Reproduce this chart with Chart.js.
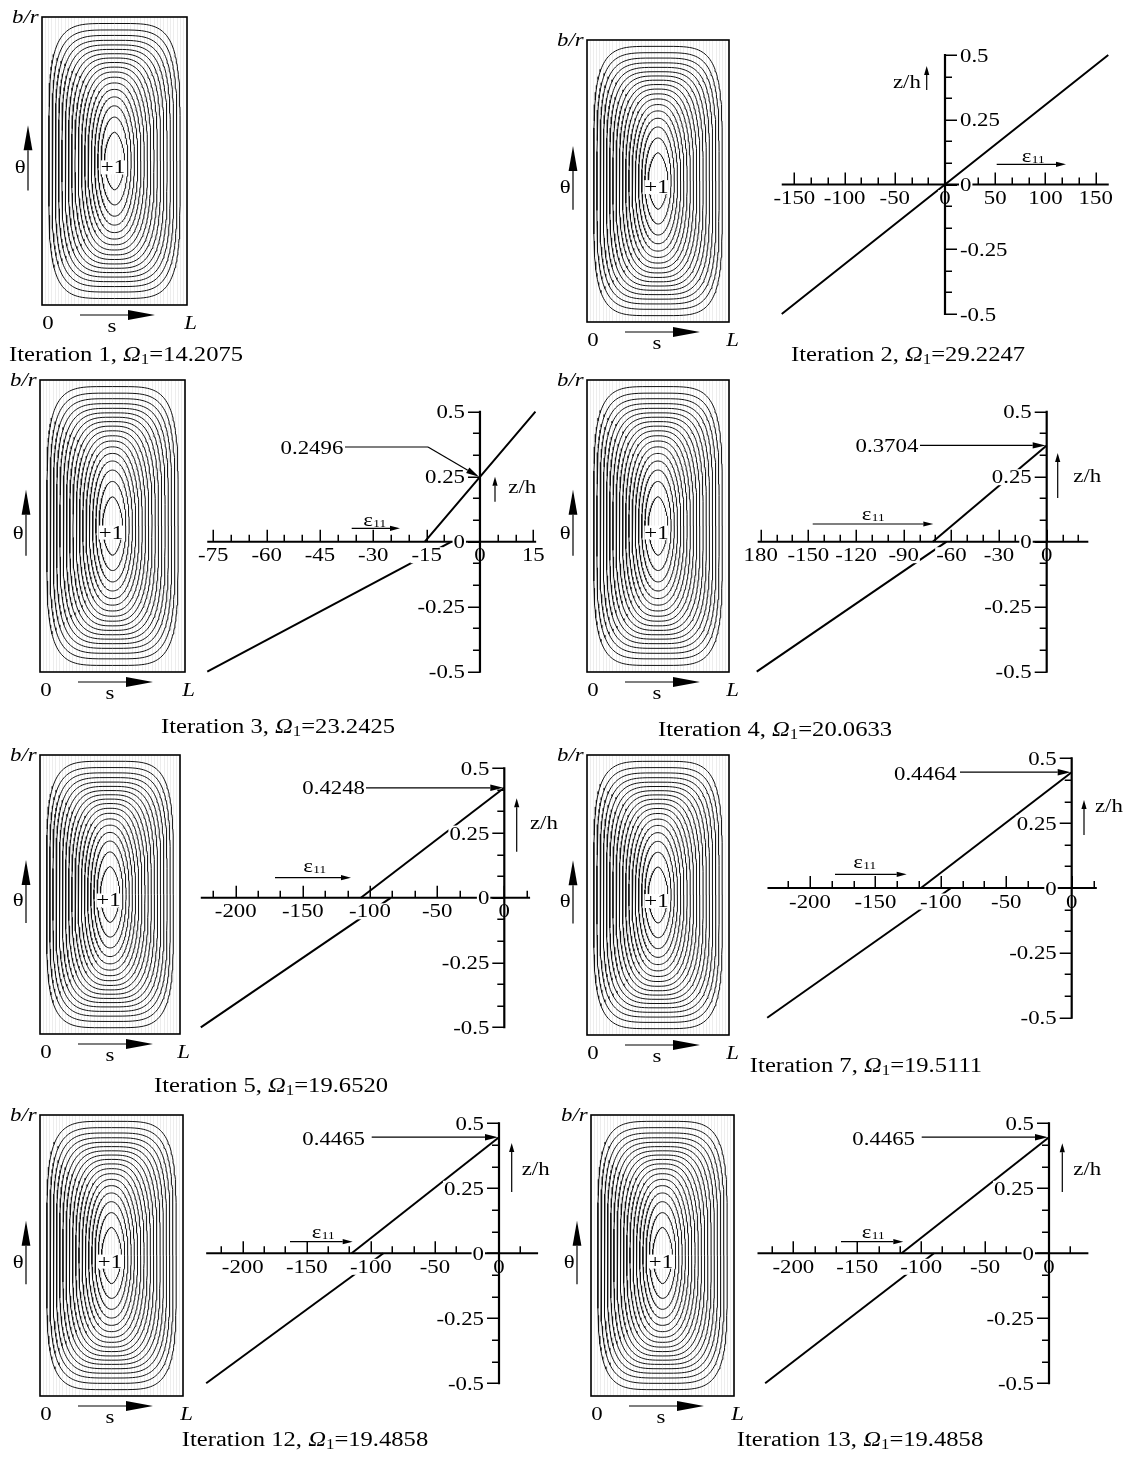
<!DOCTYPE html>
<html>
<head>
<meta charset="utf-8">
<script src="https://cdn.jsdelivr.net/npm/chart.js@4.4.1/dist/chart.umd.min.js"></script>
<style>
  body { margin: 0; background: #fff; width: 1132px; height: 1458px; position: relative; overflow: hidden; }
  canvas { position: absolute; }
  .cap { position: absolute; transform: translate(-50%, -50%) scaleX(1.2); font: 20.5px "Liberation Serif", "Times New Roman", serif; white-space: nowrap; color: #000; }
  .cap i { font-style: italic; }
  .cap sub { font-size: 14px; vertical-align: -3px; }
</style>
</head>
<body>
<script>
// ---- data ----
const iterations = ['1', '2', '3', '4', '5', '7', '12', '13'];
const omegaValues = ['14.2075', '29.2247', '23.2425', '20.0633', '19.6520', '19.5111', '19.4858', '19.4858'];

// mode shape contours, outer -> inner (fraction of half width / half height of the panel)
const ringHalfW = [0.905, 0.86, 0.815, 0.77, 0.725, 0.68, 0.635, 0.59, 0.545, 0.5, 0.455, 0.41, 0.365, 0.32, 0.275, 0.23, 0.185, 0.14];
const ringHalfH = [0.955, 0.91, 0.872, 0.838, 0.806, 0.775, 0.745, 0.715, 0.684, 0.652, 0.618, 0.582, 0.542, 0.497, 0.445, 0.383, 0.305, 0.2];
const ringPower = [4.6, 4.4, 4.2, 4.0, 3.8, 3.6, 3.4, 3.2, 3.0, 2.85, 2.7, 2.55, 2.4, 2.3, 2.2, 2.1, 2.0, 1.7];

// z/h axis
const zTicks = [-0.5, -0.25, 0, 0.25, 0.5];
const zTickLabels = ['-0.5', '-0.25', '0', '0.25', '0.5'];

// eps11 axes
const eps2Ticks = [-150, -100, -50, 0, 50, 100, 150];
const eps2Labels = ['-150', '-100', '-50', '0', '50', '100', '150'];
const eps3Ticks = [-75, -60, -45, -30, -15, 0, 15];
const eps3Labels = ['-75', '-60', '-45', '-30', '-15', '0', '15'];
const eps4Ticks = [-180, -150, -120, -90, -60, -30, 0];
const eps4Labels = ['180', '-150', '-120', '-90', '-60', '-30', '0'];
const eps5Ticks = [-200, -150, -100, -50, 0];
const eps5Labels = ['-200', '-150', '-100', '-50', '0'];

// strain distributions (eps11, z/h)
const it2Eps = [-162.5, 0, 162.5];
const it2Z = [-0.5, 0, 0.5];
const it3UpperEps = [-15.5, 0, 15.6];
const it3UpperZ = [0, 0.2496, 0.5];
const it3LowerEps = [-8, -76.7];
const it3LowerZ = [0, -0.5];
const it4UpperEps = [-71.7, 0, 25.5];
const it4UpperZ = [0, 0.3704, 0.5];
const it4LowerEps = [-63, -182.5];
const it4LowerZ = [0, -0.5];
const it5UpperEps = [-106.8, 0, 18.9];
const it5UpperZ = [0, 0.4248, 0.5];
const it5LowerEps = [-84.6, -226];
const it5LowerZ = [0, -0.5];
const it7UpperEps = [-115.2, 0, 13.8];
const it7UpperZ = [0, 0.4464, 0.5];
const it7LowerEps = [-92.2, -232.7];
const it7LowerZ = [0, -0.5];
const it12UpperEps = [-115, 0, 13.8];
const it12UpperZ = [0, 0.4465, 0.5];
const it12LowerEps = [-90.2, -228.5];
const it12LowerZ = [0, -0.5];
const it13UpperEps = [-115.3, 0, 13.8];
const it13UpperZ = [0, 0.4465, 0.5];
const it13LowerEps = [-90, -222];
const it13LowerZ = [0, -0.5];

// neutral-axis callouts
const calloutLabels = ['0.2496', '0.3704', '0.4248', '0.4464', '0.4465', '0.4465'];
const calloutValues = [0.2496, 0.3704, 0.4248, 0.4464, 0.4465, 0.4465];

// ---- layout (page pixels) ----
const SERIF = '"Liberation Serif", "Times New Roman", serif';
const FONT = '19px ' + SERIF;
const SX = 1.2; // the figure's lettering is wider than the font

const contourFrames = [
  [41.7, 16.7, 145, 288.3],
  [586.7, 39.7, 142.7, 282.7],
  [40, 380, 145, 292],
  [587, 380, 142, 292],
  [40, 755, 140, 279],
  [587, 755, 142, 280],
  [40, 1115, 143, 281],
  [591, 1115, 143, 281],
];

const captionPos = [[126, 355], [908, 355], [278, 727], [775, 730], [271, 1086], [866, 1066], [305, 1440], [860, 1440]];

const strainPanels = [
  { box: [735, 25, 397, 330], area: [794.3, 55, 1095.7, 314], axis: [-162.5, 163], minor: 50 / 3, side: 'right',
    ticks: eps2Ticks, labels: eps2Labels, lines: [[it2Eps, it2Z]],
    zh: { x: 926.7, y1: 90, y2: 66, tx: 893, ty: 88 }, eps: { tx: 1021.7, ty: 162, x1: 996.7, x2: 1066, y: 164.3 } },
  { box: [190, 395, 370, 300], area: [213.3, 411.7, 533.3, 671.7], axis: [-76.7, 15.8], minor: 5, side: 'left',
    ticks: eps3Ticks, labels: eps3Labels, lines: [[it3UpperEps, it3UpperZ], [it3LowerEps, it3LowerZ]],
    zh: { x: 495, y1: 501.7, y2: 476.7, tx: 508.3, ty: 493.3 }, eps: { tx: 363.3, ty: 526, x1: 351.7, x2: 400, y: 528.3 },
    callout: { idx: 0, rx: 343.3, ty: 453.5, path: [[345, 447], [428, 447]] } },
  { box: [735, 395, 397, 300], area: [760.7, 411.7, 1046.7, 671.7], axis: [-181.9, 26.2], minor: 10, side: 'left',
    ticks: eps4Ticks, labels: eps4Labels, lines: [[it4UpperEps, it4UpperZ], [it4LowerEps, it4LowerZ]],
    zh: { x: 1057.7, y1: 498, y2: 453, tx: 1073.3, ty: 481.7 }, eps: { tx: 861.7, ty: 520, x1: 812.7, x2: 933.3, y: 524 },
    callout: { idx: 1, rx: 918.3, ty: 452, path: [[920, null]] } },
  { box: [190, 750, 370, 300], area: [235.7, 768.3, 504.3, 1027.3], axis: [-226, 19.2], minor: 50 / 3, side: 'left',
    ticks: eps5Ticks, labels: eps5Labels, lines: [[it5UpperEps, it5UpperZ], [it5LowerEps, it5LowerZ]],
    zh: { x: 516.7, y1: 851.7, y2: 798.3, tx: 530, ty: 829 }, eps: { tx: 303.3, ty: 871.7, x1: 275, x2: 351, y: 877.7 },
    callout: { idx: 2, rx: 365, ty: 794, path: [[366, null]] } },
  { box: [745, 740, 387, 300], area: [810, 758.3, 1071.7, 1017.7], axis: [-232.5, 19.2], minor: 50 / 3, side: 'left',
    ticks: eps5Ticks, labels: eps5Labels, lines: [[it7UpperEps, it7UpperZ], [it7LowerEps, it7LowerZ]],
    zh: { x: 1084, y1: 835, y2: 800, tx: 1095, ty: 811.7 }, eps: { tx: 853.3, ty: 868.3, x1: 835, x2: 906.7, y: 874.3 },
    callout: { idx: 3, rx: 956.7, ty: 779.5, path: [[960, null]] } },
  { box: [190, 1105, 370, 300], area: [242.7, 1123.3, 499, 1383.3], axis: [-228.5, 30.5], minor: 50 / 3, side: 'left',
    ticks: eps5Ticks, labels: eps5Labels, lines: [[it12UpperEps, it12UpperZ], [it12LowerEps, it12LowerZ]],
    zh: { x: 511.7, y1: 1192, y2: 1143, tx: 521.7, ty: 1175 }, eps: { tx: 311.7, ty: 1238, x1: 290, x2: 352.7, y: 1241.7 },
    callout: { idx: 4, rx: 365, ty: 1144.5, path: [[371.7, null]] } },
  { box: [745, 1105, 387, 300], area: [793.3, 1123.3, 1049, 1383.3], axis: [-228, 30.8], minor: 50 / 3, side: 'left',
    ticks: eps5Ticks, labels: eps5Labels, lines: [[it13UpperEps, it13UpperZ], [it13LowerEps, it13LowerZ]],
    zh: { x: 1062.3, y1: 1192, y2: 1143.3, tx: 1073.3, ty: 1175 }, eps: { tx: 861.7, ty: 1238, x1: 841, x2: 903.3, y: 1241.7 },
    callout: { idx: 5, rx: 915, ty: 1144.5, path: [[921.7, null]] } },
];

// ---- helpers ----
function makeCanvas(box) {
  const c = document.createElement('canvas');
  c.width = box[2];
  c.height = box[3];
  c.style.left = box[0] + 'px';
  c.style.top = box[1] + 'px';
  c.style.width = box[2] + 'px';
  c.style.height = box[3] + 'px';
  document.body.appendChild(c);
  return c;
}

function arrow(ctx, x1, y1, x2, y2, len, half, lw) {
  const ang = Math.atan2(y2 - y1, x2 - x1);
  const bx = x2 - len * Math.cos(ang), by = y2 - len * Math.sin(ang);
  ctx.save();
  ctx.strokeStyle = '#000';
  ctx.fillStyle = '#000';
  ctx.lineWidth = lw;
  ctx.beginPath();
  ctx.moveTo(x1, y1);
  ctx.lineTo(bx, by);
  ctx.stroke();
  ctx.beginPath();
  ctx.moveTo(x2, y2);
  ctx.lineTo(bx + half * Math.sin(ang), by - half * Math.cos(ang));
  ctx.lineTo(bx - half * Math.sin(ang), by + half * Math.cos(ang));
  ctx.closePath();
  ctx.fill();
  ctx.restore();
}

// text stretched horizontally like the original lettering; returns drawn width
function text(ctx, s, x, y, align) {
  const w = ctx.measureText(s).width * SX;
  const left = align === 'center' ? x - w / 2 : align === 'right' ? x - w : x;
  ctx.save();
  ctx.translate(left, y);
  ctx.scale(SX, 1);
  ctx.textAlign = 'left';
  ctx.fillText(s, 0, 0);
  ctx.restore();
  return w;
}

function labelWithBackdrop(ctx, s, x, y, align) {
  const w = ctx.measureText(s).width * SX;
  const left = align === 'center' ? x - w / 2 : align === 'right' ? x - w : x;
  ctx.fillStyle = '#fff';
  ctx.fillRect(left - 1, y - 14, w + 2, 16);
  ctx.fillStyle = '#000';
  text(ctx, s, x, y, align);
}

// ---- strain chart axes & annotations ----
const strainDeco = {
  id: 'strainDeco',
  afterDatasetsDraw(chart, args, o) {
    const ctx = chart.ctx;
    const xs = chart.scales.x, ys = chart.scales.y;
    const ox = o.box[0], oy = o.box[1];
    const y0 = ys.getPixelForValue(0), x0 = xs.getPixelForValue(0);
    ctx.save();
    ctx.strokeStyle = '#000';

    // eps11 axis
    ctx.lineWidth = 2;
    ctx.beginPath();
    ctx.moveTo(xs.getPixelForValue(o.axis[0]), y0);
    ctx.lineTo(xs.getPixelForValue(o.axis[1]), y0);
    ctx.stroke();
    ctx.lineWidth = 1.5;
    const k0 = Math.ceil(o.axis[0] / o.minor - 1e-6), k1 = Math.floor(o.axis[1] / o.minor + 1e-6);
    for (let k = k0; k <= k1; k++) {
      const px = Math.round(xs.getPixelForValue(k * o.minor)) + 0.25;
      const len = k % 3 === 0 ? 12 : 7;
      ctx.beginPath();
      ctx.moveTo(px, y0);
      ctx.lineTo(px, y0 - len);
      ctx.stroke();
    }

    // tick labels
    ctx.font = FONT;
    ctx.textBaseline = 'alphabetic';
    o.ticks.forEach((v, i) => labelWithBackdrop(ctx, o.labels[i], xs.getPixelForValue(v), y0 + 19.5, 'center'));
    zTicks.forEach((v, i) => {
      const py = ys.getPixelForValue(v) + 6.5;
      if (o.side === 'right') labelWithBackdrop(ctx, zTickLabels[i], x0 + 15, py, 'left');
      else labelWithBackdrop(ctx, zTickLabels[i], x0 - 15, py, 'right');
    });

    // z/h axis
    ctx.strokeStyle = '#000';
    ctx.lineWidth = 2.2;
    ctx.beginPath();
    ctx.moveTo(x0, ys.getPixelForValue(0.5) - 1);
    ctx.lineTo(x0, ys.getPixelForValue(-0.5) + 1);
    ctx.stroke();
    ctx.lineWidth = 1.5;
    const dir = o.side === 'right' ? 1 : -1;
    for (let k = -6; k <= 6; k++) {
      const py = Math.round(ys.getPixelForValue(k / 12)) + 0.25;
      const len = k % 3 === 0 ? 12 : 7;
      ctx.beginPath();
      ctx.moveTo(x0, py);
      ctx.lineTo(x0 + dir * len, py);
      ctx.stroke();
    }

    // z/h label
    ctx.fillStyle = '#000';
    text(ctx, 'z/h', o.zh.tx - ox, o.zh.ty - oy, 'left');
    arrow(ctx, o.zh.x - ox, o.zh.y1 - oy, o.zh.x - ox, o.zh.y2 - oy, 9, 2.6, 1.2);

    // eps11 label
    const ew = text(ctx, '\u03b5', o.eps.tx - ox, o.eps.ty - oy, 'left');
    ctx.font = '11px ' + SERIF;
    text(ctx, '11', o.eps.tx - ox + ew + 0.5, o.eps.ty - oy + 1, 'left');
    arrow(ctx, o.eps.x1 - ox, o.eps.y - oy, o.eps.x2 - ox, o.eps.y - oy, 10, 2.6, 1.2);

    // neutral axis callout
    if (o.callout) {
      const c = o.callout;
      ctx.font = FONT;
      text(ctx, calloutLabels[c.idx], c.rx - ox, c.ty - oy, 'right');
      const tipY = ys.getPixelForValue(calloutValues[c.idx]);
      const pts = c.path.map(p => [p[0] - ox, p[1] === null ? tipY : p[1] - oy]);
      ctx.lineWidth = 1.2;
      ctx.beginPath();
      ctx.moveTo(pts[0][0], pts[0][1]);
      for (let i = 1; i < pts.length; i++) ctx.lineTo(pts[i][0], pts[i][1]);
      ctx.stroke();
      const last = pts[pts.length - 1];
      arrow(ctx, last[0], last[1], x0 - 1, tipY, 13, 3.2, 1.2);
    }
    ctx.restore();
  }
};

function strainChart(p) {
  const canvas = makeCanvas(p.box);
  const pad = {
    left: p.area[0] - p.box[0],
    top: p.area[1] - p.box[1],
    right: p.box[0] + p.box[2] - p.area[2],
    bottom: p.box[1] + p.box[3] - p.area[3],
  };
  new Chart(canvas, {
    type: 'scatter',
    data: {
      datasets: p.lines.map(l => ({
        data: l[0].map((e, i) => ({ x: e, y: l[1][i] })),
        showLine: true, borderColor: '#000', borderWidth: 2, pointRadius: 0, clip: false,
      })),
    },
    options: {
      responsive: false, animation: false, events: [],
      layout: { padding: pad },
      plugins: { legend: { display: false }, tooltip: { enabled: false }, strainDeco: p },
      scales: {
        x: { type: 'linear', display: false, min: p.ticks[0], max: p.ticks[p.ticks.length - 1] },
        y: { type: 'linear', display: false, min: -0.5, max: 0.5 },
      },
    },
    plugins: [strainDeco],
  });
}

// ---- contour panels ----
const ringSteps = 160;
function ringPoints(i) {
  const a = ringHalfW[i] * 0.5, b = ringHalfH[i] * 0.5, n = ringPower[i];
  const pts = [];
  for (let k = 0; k <= ringSteps; k++) {
    const t = 2 * Math.PI * k / ringSteps;
    const c = Math.cos(t), s = Math.sin(t);
    pts.push({ x: 0.5 + a * Math.sign(c) * Math.pow(Math.abs(c), 2 / n), y: 0.5 + b * Math.sign(s) * Math.pow(Math.abs(s), 2 / n) });
  }
  return pts;
}

const contourDeco = {
  id: 'contourDeco',
  afterDatasetsDraw(chart) {
    const ctx = chart.ctx, a = chart.chartArea;
    const L = a.left, T = a.top, R = a.right, B = a.bottom, H = B - T;
    ctx.save();
    ctx.strokeStyle = '#000';
    ctx.lineWidth = 1.6;
    ctx.strokeRect(L, T, R - L, B - T);
    ctx.fillStyle = '#000';
    ctx.textBaseline = 'alphabetic';
    ctx.font = 'italic ' + FONT;
    text(ctx, 'b/r', L - 3.4, T + 5.5, 'right');
    text(ctx, 'L', R + 3.5, B + 23.5, 'center');
    ctx.font = FONT;
    text(ctx, '\u03b8', L - 21.7, T + 0.543 * H, 'center');
    text(ctx, '0', L + 6, B + 23.5, 'center');
    text(ctx, 's', L + 70, B + 26.5, 'center');
    const cx = chart.scales.x.getPixelForValue(0.5);
    const w = ctx.measureText('+1').width * SX;
    ctx.fillStyle = '#fff';
    ctx.fillRect(cx - 1.5 - w / 2, T + 0.543 * H - 13, w, 14);
    ctx.fillStyle = '#000';
    text(ctx, '+1', cx - 1.5, T + 0.543 * H, 'center');
    arrow(ctx, L - 14, T + 0.602 * H, L - 14, T + 0.376 * H, 25, 4.4, 1.2);
    arrow(ctx, L + 38, B + 10, L + 113, B + 10, 27, 5, 1.2);
    ctx.restore();
  }
};

function contourChart(frame) {
  const box = [frame[0] - 42, frame[1] - 20, frame[2] + 64, frame[3] + 52];
  const canvas = makeCanvas(box);
  const pad = {
    left: frame[0] - box[0], top: frame[1] - box[1],
    right: box[0] + box[2] - frame[0] - frame[2], bottom: box[1] + box[3] - frame[1] - frame[3],
  };
  new Chart(canvas, {
    type: 'scatter',
    data: {
      datasets: ringHalfW.map((_, i) => ({
        data: ringPoints(i), showLine: true, borderColor: '#111', borderWidth: 1, pointRadius: 0, tension: 0,
      })),
    },
    options: {
      responsive: false, animation: false, events: [],
      layout: { padding: pad },
      plugins: { legend: { display: false }, tooltip: { enabled: false } },
      scales: {
        x: { type: 'linear', min: 0, max: 1, display: true,
             ticks: { display: false, stepSize: 1 / 44 }, grid: { color: '#e0e0e0', lineWidth: 0.6, drawTicks: false },
             border: { display: false }, afterFit: s => { s.height = 0; } },
        y: { type: 'linear', display: false, min: 0, max: 1 },
      },
    },
    plugins: [contourDeco],
  });
}

contourFrames.forEach(contourChart);
strainPanels.forEach(strainChart);

iterations.forEach((it, i) => {
  const d = document.createElement('div');
  d.className = 'cap';
  d.style.left = captionPos[i][0] + 'px';
  d.style.top = captionPos[i][1] + 'px';
  d.innerHTML = 'Iteration ' + it + ', <i>\u03a9</i><sub>1</sub>=' + omegaValues[i];
  document.body.appendChild(d);
});
</script>
</body>
</html>
